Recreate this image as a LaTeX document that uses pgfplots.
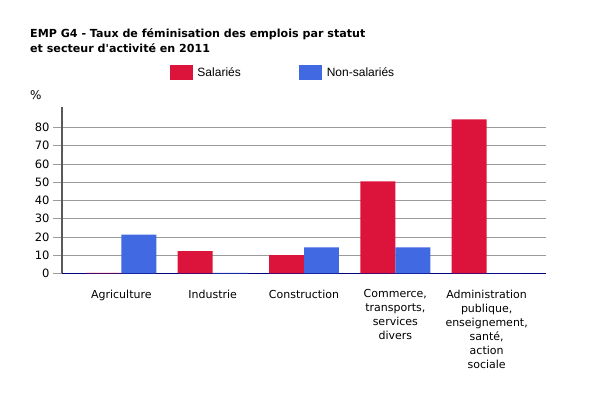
\documentclass[border=0pt]{standalone}
\usepackage{fontspec}
\setmainfont{DejaVu Sans}[Ligatures=TeXOff]
\newfontfamily\legfont{Liberation Sans}
\usepackage{pgfplots}
\pgfplotsset{compat=1.18}

\definecolor{salred}{RGB}{220,20,60}
\definecolor{nsblue}{RGB}{65,105,225}
\definecolor{gridgray}{RGB}{155,155,155}
\definecolor{axisgray}{RGB}{90,90,90}
\definecolor{axisnavy}{RGB}{0,0,128}

\begin{document}
\begin{tikzpicture}
    % page frame, 600x400
    \path[use as bounding box] (0,0) rectangle (600bp,400bp);

    \node[anchor=north west, align=left, inner sep=0pt,
          font=\fontsize{11.1bp}{15bp}\selectfont\bfseries]
        at (30bp,372bp) {EMP G4 - Taux de féminisation des emplois par statut\\
        et secteur d'activité en 2011};

    \node[anchor=south west, inner sep=0pt, font=\fontsize{12bp}{14bp}\selectfont]
        at (30bp,300bp) {\%};

    \begin{axis}[
            at={(62bp,126.7bp)}, anchor=south west,
            scale only axis, width=484bp, height=166bp,
            xmin=-0.65, xmax=4.65,
            ymin=0, ymax=91,
            ybar=0pt, bar width=0.383,
            axis lines*=left,
            x axis line style={draw=axisnavy, line width=0.9pt},
            y axis line style={draw=axisgray, line width=1.2pt},
            xtick={0,1,2,3,4},
            xticklabels={Agriculture, Industrie, Construction,
                {Commerce,\\transports,\\services\\divers},
                {Administration\\publique,\\enseignement,\\santé,\\action\\sociale}},
            xtick style={draw=none},
            xticklabel style={align=center, font=\fontsize{11bp}{14bp}\selectfont, yshift=-4bp},
            ytick={0,10,...,80},
            /pgf/number format/assume math mode=true,
            yticklabel style={font=\fontsize{11.5bp}{14bp}\selectfont},
            ytick style={draw=gridgray, line width=0.6pt},
            tick align=outside,
            major tick length=9bp,
            ymajorgrids,
            grid style={draw=gridgray, line width=0.6pt},
            legend columns=2,
            legend style={at={(0.2217,1.208)}, anchor=west, draw=none, fill=none,
                inner sep=0pt, font=\legfont\fontsize{12bp}{14bp}\selectfont,
                /tikz/every odd column/.append style={column sep=3bp},
                /tikz/every even column/.append style={column sep=56bp}},
            legend image code/.code={\fill[#1] (0bp,-7.5bp) rectangle (23bp,7.5bp);},
        ]
        \addplot[fill=salred, draw=none, bar shift=-0.1915]
        coordinates {(0,0.3) (1,12.2) (2,9.9) (3,50.4) (4,84.4)};
        \addlegendentry{Salariés}
        \addplot[fill=nsblue, draw=none, bar shift=0.1915]
        coordinates {(0,21.2) (1,0.3) (2,14.2) (3,14.2) (4,0)};
        \addlegendentry{Non-salariés}
    \end{axis}
\end{tikzpicture}
\end{document}
